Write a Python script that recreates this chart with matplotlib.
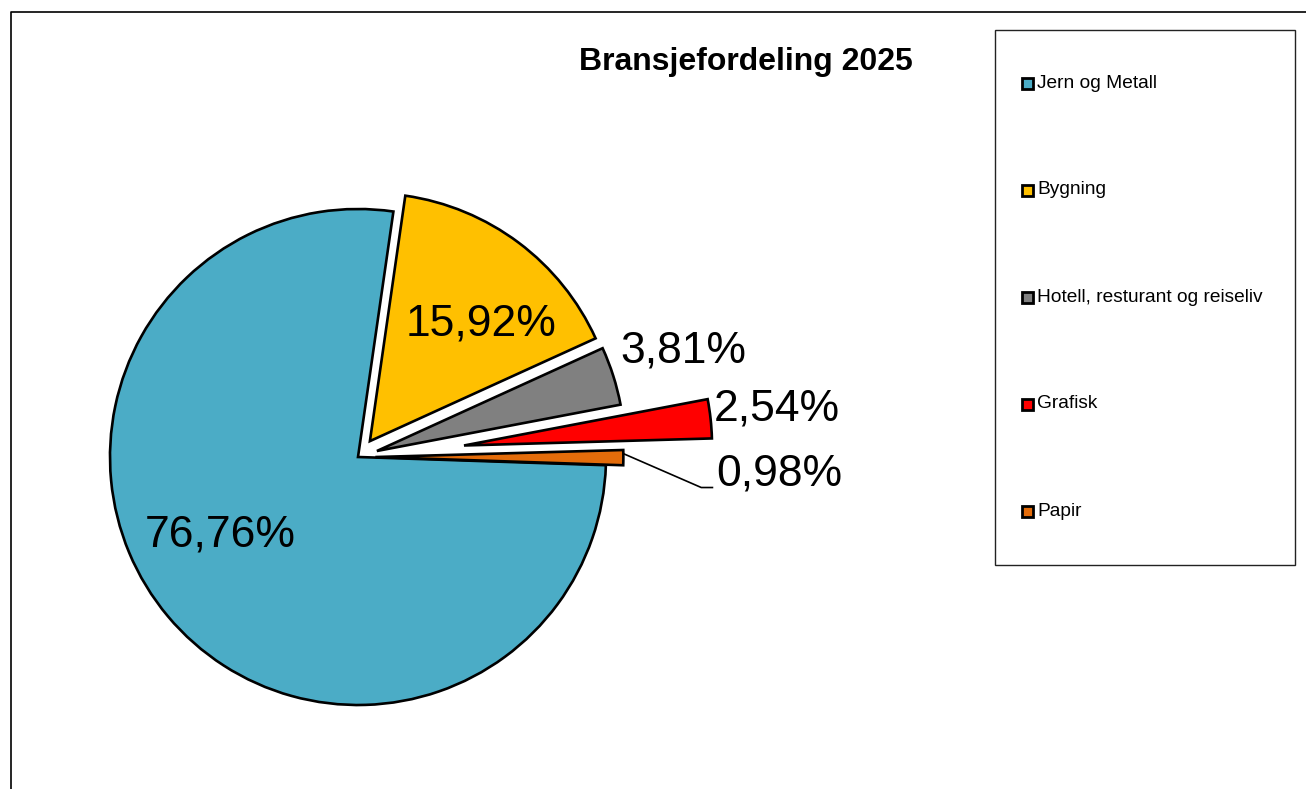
import matplotlib
matplotlib.use("Agg")
import matplotlib.pyplot as plt
from matplotlib.patches import Rectangle
from matplotlib.lines import Line2D
import numpy as np

# chart data
categories = ["Jern og Metall", "Bygning", "Hotell, resturant og reiseliv", "Grafisk", "Papir"]
shares = [76.76, 15.92, 3.81, 2.54, 0.98]
labels = ["76,76%", "15,92%", "3,81%", "2,54%", "0,98%"]
colors = ["#4BACC6", "#FFC000", "#808080", "#FF0000", "#E46C0A"]
title = "Bransjefordeling 2025"

# layout / styling
W, H = 1306, 789
radius = 248
explode = [0, 0.08, 0.08, 0.43, 0.07]          # fraction of the radius
label_dist = [0.64, 0.65, 1.30, 1.27, 1.63]   # in pie radii from wedge centre
label_turn = [-10.5, -6.5, 0.5, 0.4, -2.2]    # degrees off the wedge mid-angle
font = "Liberation Sans"

fig = plt.figure(figsize=(W / 100, H / 100), dpi=100)
ax = fig.add_axes([0, 0, 1, 1])

# pie explode is in data units, so scale by the radius
wedges, _ = ax.pie(shares, colors=colors, explode=[e * radius for e in explode],
                   startangle=-1.9, counterclock=False,
                   center=(358, H - 457), radius=radius,
                   wedgeprops=dict(edgecolor="black", linewidth=1.9,
                                   joinstyle="miter"),
                   normalize=True)
ax.set_xlim(0, W)
ax.set_ylim(0, H)
ax.set_aspect("equal")
ax.axis("off")

# value labels
for i, w in enumerate(wedges):
    mid = (w.theta1 + w.theta2) / 2
    cx, cy = w.center
    ang = np.deg2rad(mid + label_turn[i])
    lx = cx + radius * label_dist[i] * np.cos(ang)
    ly = cy + radius * label_dist[i] * np.sin(ang)
    ax.text(lx, ly, labels[i], ha="center", va="center", fontsize=32,
            family=font, color="black")
    if i == len(wedges) - 1:
        # leader line for the small slice
        ex = cx + radius * np.cos(np.deg2rad(mid))
        ey = cy + radius * np.sin(np.deg2rad(mid)) + 4
        ax.plot([ex, lx - 78, lx - 66], [ey, ly - 14, ly - 14],
                color="black", lw=1.2, solid_capstyle="butt")

# title
fig.text(746 / W, 1 - 62 / H, title, ha="center", va="center",
         fontsize=23, fontweight="bold", family=font)

# legend drawn by hand to match the tall frame
pix = lambda x, y: (x / W, 1 - y / H)
lx0, ly0, lw_, lh_ = 995, 30, 300, 535
fig.add_artist(Rectangle(pix(lx0, ly0 + lh_), lw_ / W, lh_ / H,
                         transform=fig.transFigure, fill=False,
                         edgecolor="#222222", linewidth=1.0))
row0, step = 83, 107
for i, (cat, col) in enumerate(zip(categories, colors)):
    y = row0 + i * step
    fig.add_artist(Rectangle(pix(1022, y + 6), 11 / W, 11 / H,
                             transform=fig.transFigure, facecolor=col,
                             edgecolor="black", linewidth=2.0))
    fig.text(*pix(1037, y), cat, ha="left", va="center", fontsize=13.8,
             family=font, color="black")

# outer chart frame (left and top edges visible)
fig.add_artist(Line2D([10.5 / W, 10.5 / W, 1.0], [0.0, 1 - 11.5 / H, 1 - 11.5 / H],
                      transform=fig.transFigure, color="black", linewidth=1.2))

fig.savefig("out.png", dpi=100)
